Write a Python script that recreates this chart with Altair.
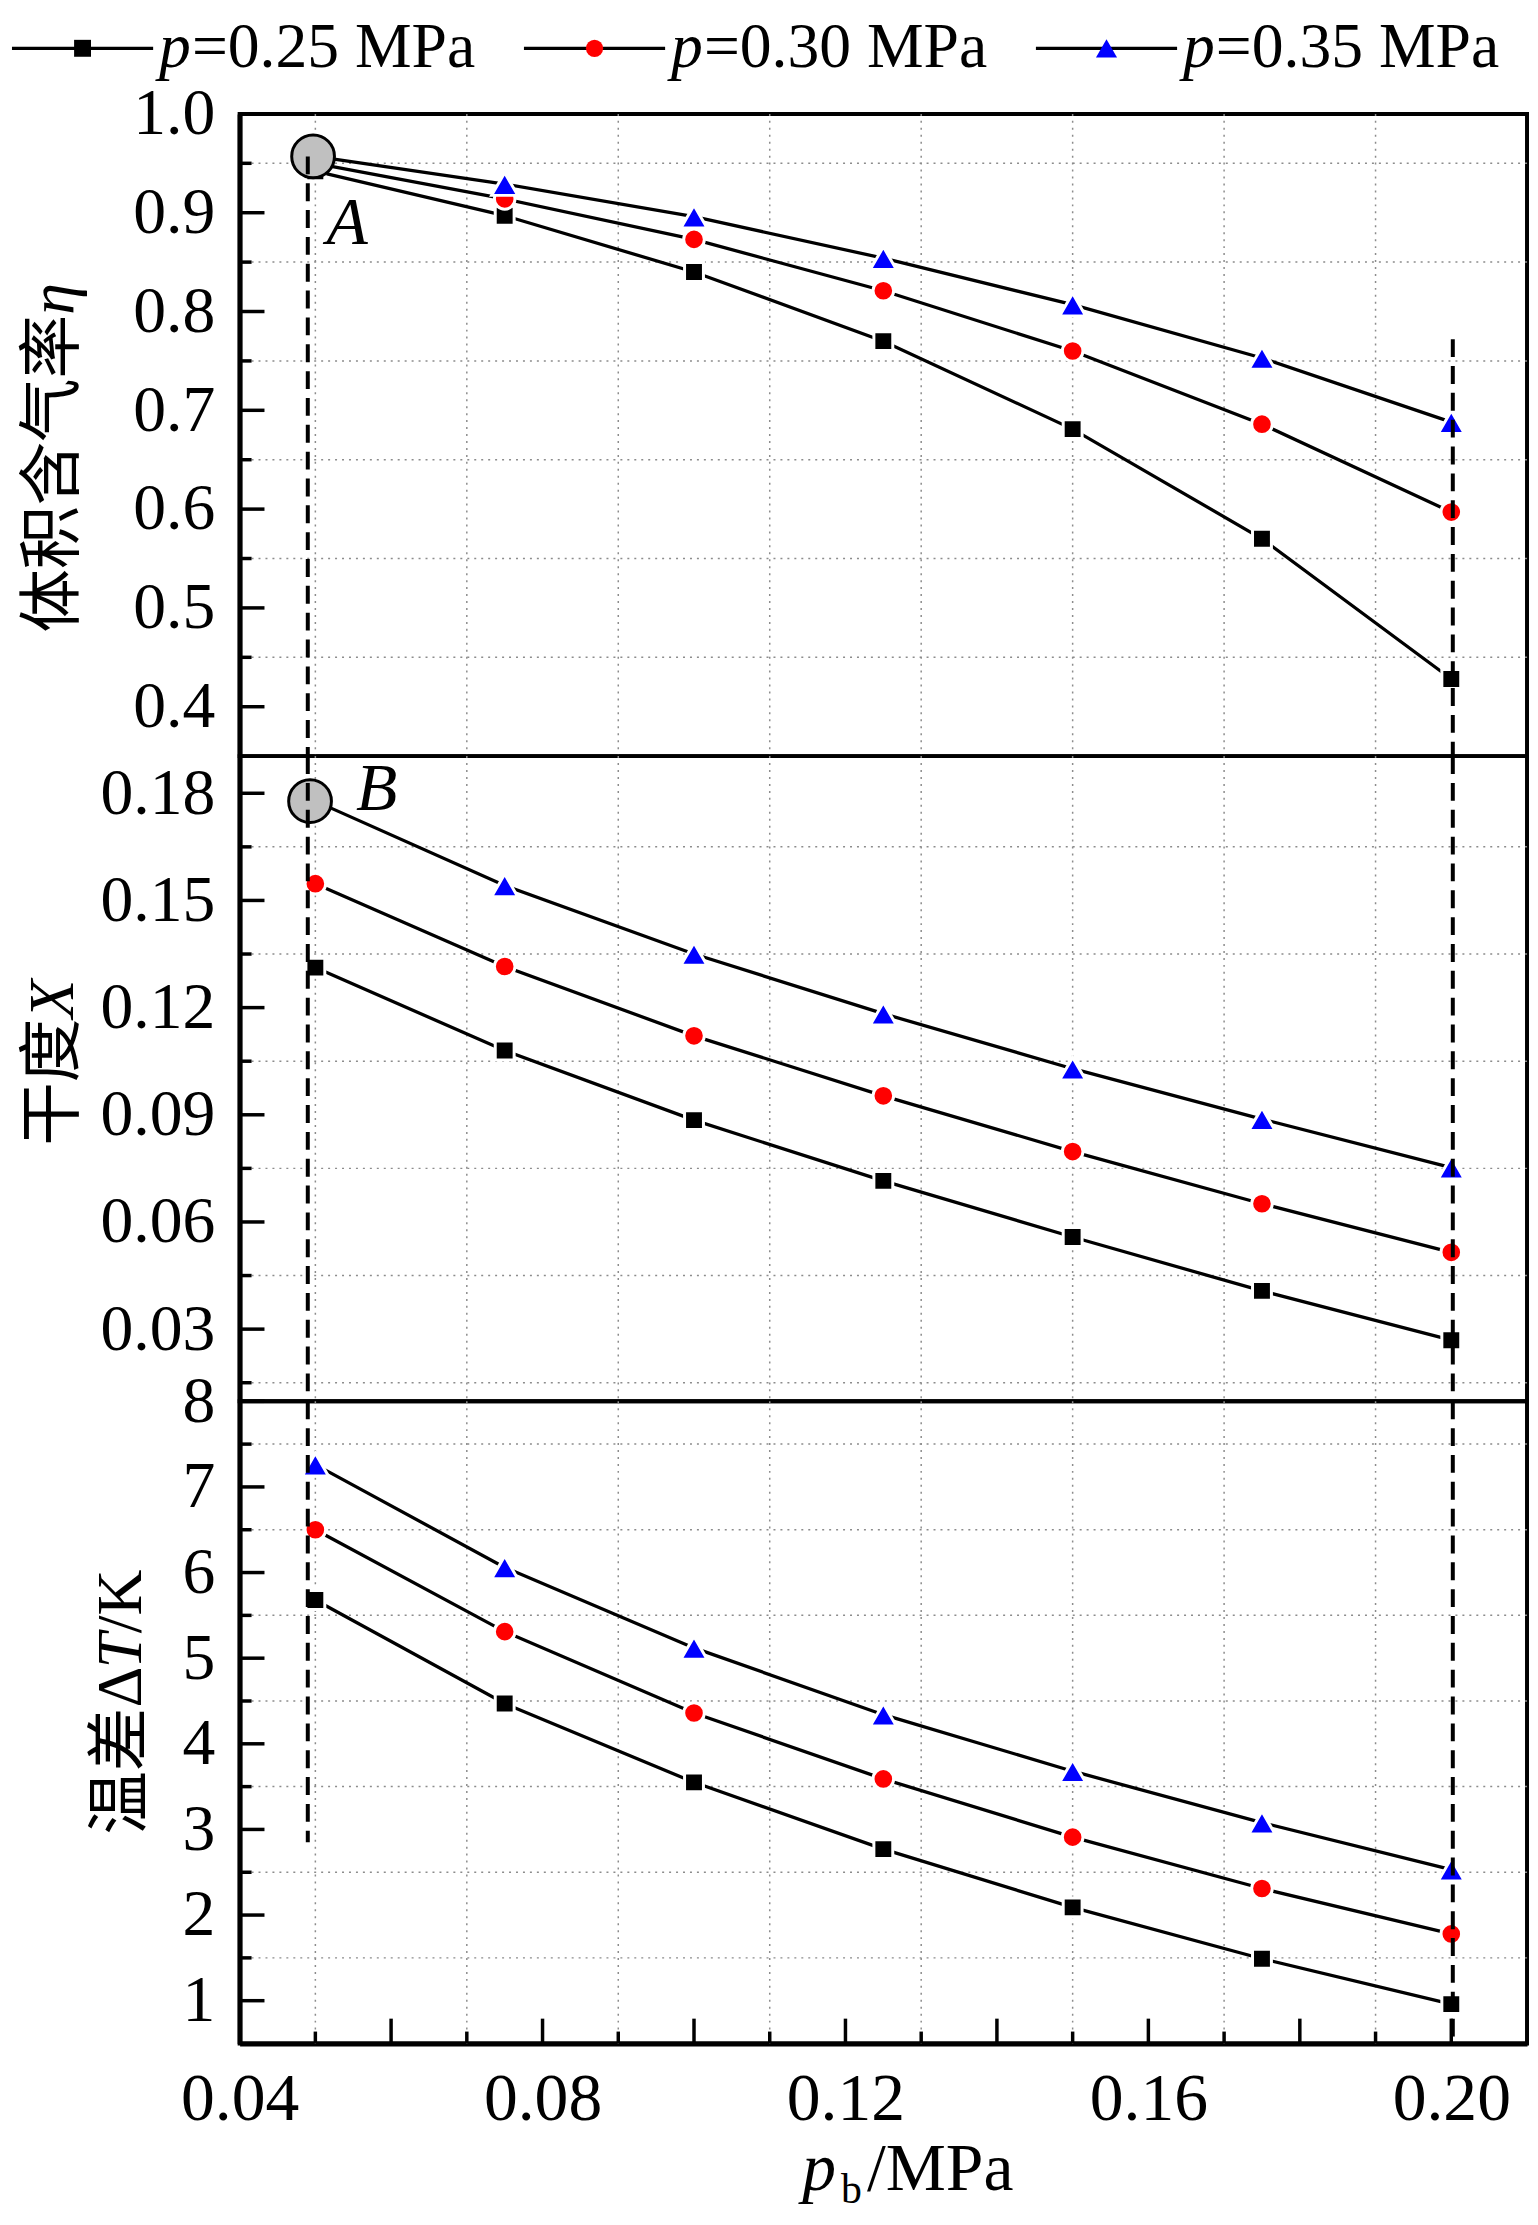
import altair as alt
import pandas as pd

FONT = "Liberation Serif, Noto Sans CJK SC"

# ---------------- data ----------------
series = ["p=0.25 MPa", "p=0.30 MPa", "p=0.35 MPa"]
series_num = ["=0.25 MPa", "=0.30 MPa", "=0.35 MPa"]
series_colors = ["#000000", "#ff0000", "#0000ff"]
series_shapes = ["square", "circle", "triangle-up"]
marker_sizes = [361, 430, 690]
legend_sizes = [290, 300, 450]

pb = [0.05, 0.075, 0.10, 0.125, 0.15, 0.175, 0.20]

eta_025 = [0.942, 0.897, 0.840, 0.770, 0.681, 0.570, 0.428]
eta_030 = [0.950, 0.914, 0.873, 0.821, 0.760, 0.686, 0.597]
eta_035 = [0.957, 0.929, 0.896, 0.854, 0.807, 0.753, 0.688]

X_025 = [0.1312, 0.1080, 0.0885, 0.0715, 0.0558, 0.0407, 0.0269]
X_030 = [0.1547, 0.1315, 0.1121, 0.0953, 0.0797, 0.0651, 0.0515]
X_035 = [0.1778, 0.1542, 0.1350, 0.1183, 0.1029, 0.0888, 0.0752]

dT_025 = [5.68, 4.47, 3.55, 2.77, 2.09, 1.49, 0.96]
dT_030 = [6.50, 5.31, 4.36, 3.59, 2.91, 2.31, 1.78]
dT_035 = [7.26, 6.06, 5.12, 4.34, 3.68, 3.08, 2.53]

x_domain = [0.04, 0.21]
x_labels = [0.04, 0.08, 0.12, 0.16, 0.20]
x_major_ticks = [0.06, 0.08, 0.10, 0.12, 0.14, 0.16, 0.18, 0.20]
x_minor_ticks = [0.05, 0.07, 0.09, 0.11, 0.13, 0.15, 0.17, 0.19]

eta_domain = [0.35, 1.0]
eta_major = [0.4, 0.5, 0.6, 0.7, 0.8, 0.9, 1.0]
eta_minor = [0.45, 0.55, 0.65, 0.75, 0.85, 0.95]

X_domain = [0.0098, 0.1904]
X_major = [0.03, 0.06, 0.09, 0.12, 0.15, 0.18]
X_minor = [0.015, 0.045, 0.075, 0.105, 0.135, 0.165]

dT_domain = [0.5, 8.0]
dT_major = [1, 2, 3, 4, 5, 6, 7, 8]
dT_minor = [1.5, 2.5, 3.5, 4.5, 5.5, 6.5, 7.5]

# y-axis titles: (text, italic) pieces, read bottom to top
title_eta = [("体积含气率", False), ("η", True)]
title_X = [("干度", False), ("X", True)]
title_dT = [("温差Δ", False), ("T", True), ("/K", False)]
# x-axis title pieces: (text, italic, subscript)
title_pb = [("p", True, False), ("b", False, True), ("/MPa", False, False)]

# state points A and B
pointA = {"x": [0.0497], "y": [0.957], "lx": [0.0542], "ly": [0.888], "t": ["A"]}
pointB = {"x": [0.0493], "y": [0.1778], "lx": [0.0581], "ly": [0.181], "t": ["B"]}

# dashed guide lines (x, top, bottom) per panel
dash_x = [0.0490, 0.2002]
dash_eta_top = [0.957, 0.772]
dash_eta_bot = [0.35, 0.35]
dash_X_top = [0.1904, 0.1904]
dash_X_bot = [0.0098, 0.0098]
dash_dT_top = [8.0, 8.0]
dash_dT_bot = [2.85, 0.5]

W = 1295
TFS = 64  # y title font size
XFS = 68  # x title font size

color_scale = alt.Scale(domain=series, range=series_colors)
shape_scale = alt.Scale(domain=series, range=series_shapes)


def long_df(a, b, c):
    rows = []
    for s, vals in zip(series, [a, b, c]):
        for xv, yv in zip(pb, vals):
            rows.append({"pb": xv, "v": yv, "series": s})
    return pd.DataFrame(rows)


EM = {"η": 0.5, "X": 0.611, "T": 0.556, "Δ": 0.612, "/": 0.278, "K": 0.722,
      "p": 0.5, "b": 0.5, "M": 0.889, "P": 0.556, "a": 0.444}


def piece_width(text, size):
    return sum(EM.get(ch, 1.0) for ch in text) * size


def title_layers(pieces, x_pix, y_start):
    out = []
    one = pd.DataFrame({"k": [0]})
    y = y_start
    for txt, ital in pieces:
        out.append(alt.Chart(one).mark_text(
            text=txt, font=FONT, fontSize=TFS, color="black", angle=270,
            align="left", baseline="middle",
            fontStyle="italic" if ital else "normal").encode(
            x=alt.value(x_pix), y=alt.value(y)))
        y -= piece_width(txt, TFS)
    return out


def xtitle_layers(x_start, y_mid):
    out = []
    one = pd.DataFrame({"k": [0]})
    x = x_start
    for txt, ital, sub in title_pb:
        size = 42 if sub else XFS
        out.append(alt.Chart(one).mark_text(
            text=txt, font=FONT, fontSize=size, color="black",
            align="left", baseline="middle",
            fontStyle="italic" if ital else "normal").encode(
            x=alt.value(x), y=alt.value(y_mid + (20 if sub else 0))))
        x += piece_width(txt, size) + 5
    return out


def make_panel(df, ydom, ymaj, ymin, fmt, title, tx, ty, dtop, dbot, H,
               point=None, bottom=False):
    xscale = alt.Scale(domain=x_domain, nice=False, zero=False)
    yscale = alt.Scale(domain=ydom, nice=False, zero=False)
    if bottom:
        xaxis = alt.Axis(values=x_labels, format=".2f", labelFont=FONT,
                         labelFontSize=68, labelColor="black", labelPadding=22,
                         labelFlush=False, labelOverlap=False, ticks=False,
                         tickSize=0, grid=False, domainColor="black",
                         domainWidth=5, title=None)
    else:
        xaxis = None
    yaxis = alt.Axis(values=ymaj, format=fmt, labelFont=FONT, labelFontSize=66,
                     labelColor="black", labelPadding=25, labelFlush=False,
                     labelOverlap=False, ticks=False, tickSize=0, grid=False,
                     domainColor="black", domainWidth=5, title=None)

    def xe(f):
        return alt.X(f, type="quantitative", scale=xscale, axis=xaxis)

    def ye(f):
        return alt.Y(f, type="quantitative", scale=yscale, axis=yaxis)

    layers = []
    # grid lines (dotted, at minor positions)
    layers.append(alt.Chart(pd.DataFrame({"v": ymin})).mark_rule(
        color="#8c8c8c", strokeWidth=1.5, strokeDash=[2, 5]).encode(y=ye("v")))
    layers.append(alt.Chart(pd.DataFrame({"gx": x_minor_ticks})).mark_rule(
        color="#8c8c8c", strokeWidth=1.5, strokeDash=[2, 5]).encode(x=xe("gx")))
    # inward y ticks
    layers.append(alt.Chart(pd.DataFrame({"v": ymaj})).mark_rule(
        color="black", strokeWidth=3.5).encode(
        y=ye("v"), x=alt.value(0), x2=alt.value(25)))
    layers.append(alt.Chart(pd.DataFrame({"v": ymin})).mark_rule(
        color="black", strokeWidth=3.5).encode(
        y=ye("v"), x=alt.value(0), x2=alt.value(12)))
    if bottom:
        layers.append(alt.Chart(pd.DataFrame({"gx": x_major_ticks})).mark_rule(
            color="black", strokeWidth=3.5).encode(
            x=xe("gx"), y=alt.value(H), y2=alt.value(H - 25)))
        layers.append(alt.Chart(pd.DataFrame({"gx": x_minor_ticks})).mark_rule(
            color="black", strokeWidth=3.5).encode(
            x=xe("gx"), y=alt.value(H), y2=alt.value(H - 12)))
    # series lines and markers
    layers.append(alt.Chart(df).mark_line(color="black", strokeWidth=3.3).encode(
        x=xe("pb"), y=ye("v"), detail="series:N"))
    for s, sz in zip(series, marker_sizes):
        layers.append(alt.Chart(df).transform_filter(
            alt.datum.series == s).mark_point(
            filled=True, size=sz, stroke="white", strokeWidth=3, opacity=1).encode(
            x=xe("pb"), y=ye("v"),
            fill=alt.Fill("series:N", scale=color_scale, legend=None),
            shape=alt.Shape("series:N", scale=shape_scale, legend=None)))
    if point is not None:
        pdf = pd.DataFrame(point)
        layers.append(alt.Chart(pdf).mark_point(
            shape="circle", filled=True, fill="#c0c0c0", stroke="black",
            strokeWidth=3, size=1850, opacity=1).encode(x=xe("x"), y=ye("y")))
    # dashed guides
    ddf = pd.DataFrame({"dx": dash_x, "y1": dtop, "y2": dbot})
    layers.append(alt.Chart(ddf).mark_rule(
        color="black", strokeWidth=4, strokeDash=[18, 9]).encode(
        x=xe("dx"), y=ye("y1"), y2="y2:Q"))
    if point is not None:
        layers.append(alt.Chart(pdf).mark_text(
            font=FONT, fontSize=68, fontStyle="italic", color="black",
            align="center", baseline="middle").encode(
            x=xe("lx"), y=ye("ly"), text="t:N"))
    layers += title_layers(title, tx, ty)
    if bottom:
        layers += xtitle_layers(566, H + 127)
    return alt.layer(*layers).properties(width=W, height=H)


top = make_panel(long_df(eta_025, eta_030, eta_035), eta_domain, eta_major,
                 eta_minor, ".1f", title_eta, -187, 522, dash_eta_top,
                 dash_eta_bot, 646, point=pointA)
mid = make_panel(long_df(X_025, X_030, X_035), X_domain, X_major, X_minor,
                 ".2f", title_X, -187, 392, dash_X_top, dash_X_bot, 649,
                 point=pointB)
bot = make_panel(long_df(dT_025, dT_030, dT_035), dT_domain, dT_major,
                 dT_minor, "d", title_dT, -118, 436, dash_dT_top, dash_dT_bot,
                 646, bottom=True)

# ---------------- legend header ----------------
leg_df = pd.DataFrame({"idx": [0, 1, 2], "series": series, "num": series_num})
lx = alt.X("idx:Q", scale=alt.Scale(domain=[0, 2], range=[-229, 801],
                                     nice=False, zero=False), axis=None)
LY = 32
leg_layers = [alt.Chart(leg_df).mark_rule(
    color="black", strokeWidth=3.3, x2Offset=142).encode(
    x=lx, x2="idx:Q", y=alt.value(LY))]
for s, sz in zip(series, legend_sizes):
    leg_layers.append(alt.Chart(leg_df).transform_filter(
        alt.datum.series == s).mark_point(
        filled=True, opacity=1, xOffset=71, size=sz).encode(
        x=lx, y=alt.value(LY),
        fill=alt.Fill("series:N", scale=color_scale, legend=None),
        shape=alt.Shape("series:N", scale=shape_scale, legend=None)))
leg_layers.append(alt.Chart(leg_df).mark_text(
    text="p", font=FONT, fontSize=64, fontStyle="italic", color="black",
    align="left", baseline="middle", dx=148).encode(x=lx, y=alt.value(LY)))
leg_layers.append(alt.Chart(leg_df).mark_text(
    font=FONT, fontSize=64, color="black", align="left", baseline="middle",
    dx=181).encode(x=lx, y=alt.value(LY), text="num:N"))
legend = alt.layer(*leg_layers).properties(
    width=W, height=98, view=alt.ViewBackground(stroke="transparent"))

chart = alt.vconcat(
    legend, top, mid, bot, spacing=0, bounds="flush",
    padding={"top": 0, "left": 0, "right": 0, "bottom": 0},
).resolve_scale(x="independent", y="independent").configure_view(
    stroke="black", strokeWidth=4)

chart.save("out.html", embed_options={"renderer": "svg", "actions": False})
